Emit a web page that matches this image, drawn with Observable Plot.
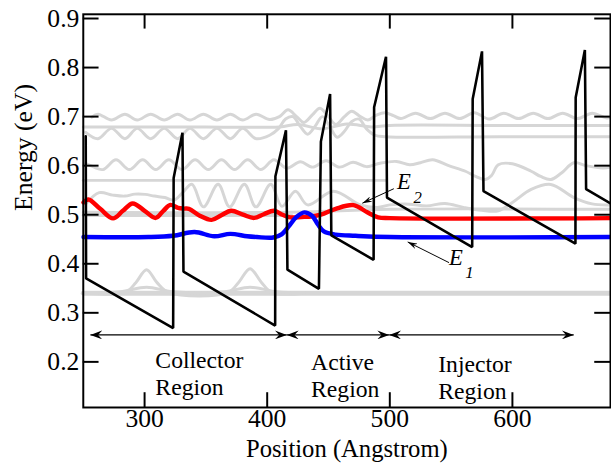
<!DOCTYPE html>
<html><head><meta charset="utf-8">
<script src="https://cdn.jsdelivr.net/npm/d3@7"></script>
<script src="https://cdn.jsdelivr.net/npm/@observablehq/plot@0.6"></script>
<style>
html,body{margin:0;padding:0;background:#fff;overflow:hidden}
#chart{width:611px;height:474px;overflow:hidden}
</style>
</head><body><div id="chart"></div>
<script>
// ---- axes ----
const xTicks = [300, 400, 500, 600];
const yTicks = [0.2, 0.3, 0.4, 0.5, 0.6, 0.7, 0.8, 0.9];

// ---- conduction band profile (black) ----
const bandX = [252, 252.3, 323.3, 323.7, 330.9, 331.7, 406.5, 406.7, 415.3, 416.5, 442.2, 443.8, 451.3, 452.3, 486.8, 487.2, 496.9, 497.7, 567.2, 567.6, 575.2, 576.4, 651.4, 651.6, 659.1, 660.1, 680];
const bandY = [0.660, 0.370, 0.269, 0.575, 0.667, 0.384, 0.274, 0.5785, 0.672, 0.388, 0.349, 0.649, 0.746, 0.458, 0.408, 0.719, 0.822, 0.535, 0.434, 0.736, 0.833, 0.548, 0.441, 0.739, 0.836, 0.552, 0.523];

// ---- E2 (red) ----
const e2X = [250.2, 254.2, 263.8, 274.3, 282.3, 290.3, 300, 309.1, 315.3, 321.1, 327.3, 332.1, 336.2, 345, 354.6, 362.6, 370.6, 380.3, 389.4, 397.2, 405.5, 412.5, 418.9, 427.8, 434.2, 443.8, 455.9, 470.4, 481.6, 490.5, 500.1, 680];
const e2Y = [0.525, 0.531, 0.512, 0.4925, 0.508, 0.523, 0.508, 0.4935, 0.508, 0.520, 0.514, 0.5125, 0.512, 0.498, 0.4895, 0.499, 0.508, 0.500, 0.4935, 0.501, 0.508, 0.500, 0.4945, 0.4955, 0.496, 0.500, 0.512, 0.5195, 0.505, 0.4947, 0.493, 0.493];

// ---- E1 (blue) ----
const e1X = [250.2, 303.2, 323.3, 340.7, 356.8, 369.9, 383.6, 391.6, 404.9, 411.7, 418.1, 423.7, 430.2, 436.6, 441.4, 446.2, 455.9, 472, 500.1, 680];
const e1Y = [0.4545, 0.4545, 0.457, 0.4646, 0.456, 0.461, 0.456, 0.4545, 0.4535, 0.46, 0.478, 0.495, 0.5048, 0.498, 0.48, 0.466, 0.4595, 0.457, 0.4545, 0.4545];

// ---- other states (grey) ----
const psiA = [[257,0.699],[262,0.705],[273,0.693],[284,0.705],[294,0.693],[305,0.705],[316,0.693],[327,0.705],[337,0.693],[348,0.705],[359,0.693],[370,0.705],[380,0.693],[391,0.705],[402,0.694],[410,0.70],[417,0.714],[424,0.70],[430,0.688],[437,0.704],[443,0.717],[450,0.70],[456,0.684],[463,0.70],[469,0.711],[476,0.70],[482,0.693],[489,0.703],[496,0.708],[503,0.702],[509,0.696],[521,0.707],[533,0.696],[545,0.707],[557,0.696],[569,0.708],[581,0.695],[593,0.707],[605,0.696],[617,0.707],[629,0.696],[641,0.707],[653,0.696],[665,0.707],[677,0.697],[680,0.699]];
const psiB = [[250,0.679],[300,0.679],[350,0.679],[410,0.679],[425,0.684],[445,0.675],[465,0.685],[485,0.679],[500,0.682],[590,0.682],[680,0.682]];
const psiC = [[252,0.668],[262,0.655],[273,0.676],[284,0.655],[294,0.676],[305,0.655],[316,0.676],[327,0.655],[337,0.676],[348,0.655],[359,0.676],[370,0.655],[380,0.676],[391,0.655],[402,0.662],[409,0.675],[415,0.695],[421,0.70],[427,0.68],[433,0.664],[439,0.68],[445,0.70],[451,0.68],[457,0.658],[463,0.67],[469,0.69],[475,0.695],[481,0.675],[488,0.662],[496,0.659],[590,0.659],[680,0.659]];
const psiD = [[252,0.604],[256,0.60],[265.9,0.592],[276.7,0.612],[287.6,0.592],[298.4,0.612],[309.1,0.592],[319.8,0.612],[330.5,0.592],[341.2,0.612],[352,0.592],[362.7,0.612],[373.4,0.592],[384.1,0.612],[394.8,0.592],[405.5,0.612],[416,0.595],[427,0.608],[437,0.597],[448,0.61],[459,0.597],[470,0.607],[481,0.598],[492,0.605],[505.4,0.6086],[516.2,0.6018],[525,0.606],[534.9,0.612],[548,0.60],[561.7,0.5886],[570,0.578],[577.8,0.5717],[583,0.58],[588.5,0.602],[600,0.604],[615.3,0.5886],[623,0.578],[631.3,0.5717],[640,0.585],[650.1,0.606],[660,0.60],[673.7,0.5952],[680,0.597]];
const psiE = [[250,0.57],[497,0.57]];
const psiF = [[252,0.522],[263,0.545],[274,0.54],[284,0.538],[292,0.542],[300.5,0.5415],[308,0.538],[316.6,0.535],[324,0.53],[331,0.545],[338.6,0.562],[348,0.516],[360,0.562],[369.3,0.516],[381.4,0.562],[390.8,0.516],[402.9,0.562],[412,0.517],[423,0.548],[433,0.52],[454,0.548],[476,0.52],[490,0.515],[500,0.52],[516,0.5215],[530,0.518],[545,0.523],[560,0.515],[575,0.509],[588.5,0.508],[600,0.525],[615.3,0.5516],[631.3,0.5617],[650.1,0.535],[665,0.522],[680,0.52]];
const psiG = [[250,0.505],[420,0.505],[500,0.511],[680,0.511]];
const psiH = [[250,0.4985],[420,0.4985]];
const psiJ = [[250,0.341],[284,0.341],[293,0.362],[301.6,0.388],[310,0.362],[320,0.341],[368,0.341],[377,0.363],[386,0.39],[395,0.363],[404,0.341],[430,0.34]];
const psiK = [[250,0.341],[280,0.343],[301.6,0.352],[323,0.343],[365,0.343],[386,0.352],[408,0.343],[430,0.341]];
const psiGround = [[250,0.340],[680,0.340]];

// ---- annotations ----
const regionNames = ["Collector\nRegion", "Active\nRegion", "Injector\nRegion"];
const regionLabelX = [308.8, 435.8, 539.5];
const regionLabelY = [0.1773, 0.1733, 0.169];
const regionFrom = [255.8, 416, 499.5];
const regionTo = [416, 499.5, 650];
const regionArrowY = 0.255;
const levelNames = ["E", "E"];
const levelSubs = ["2", "1"];
const levelLabelX = [505.9, 548.3];
const levelLabelY = [0.5665, 0.4126];
const levelSubX = [519.4, 561.5];
const levelSubY = [0.5357, 0.3816];
const levelArrowFrom = [[503.3, 0.553], [548.3, 0.4023]];
const levelArrowTo = [[477.6, 0.5235], [514.6, 0.4445]];

// ---- tables ----
const band = bandX.map((x, i) => ({x, y: bandY[i]}));
const e2 = e2X.map((x, i) => ({x, y: e2Y[i]}));
const e1 = e1X.map((x, i) => ({x, y: e1Y[i]}));
const greys = [psiA, psiB, psiC, psiD, psiE, psiF, psiG, psiH, psiJ, psiK]
  .flatMap((pts, k) => pts.map(([x, y]) => ({x, y, k})));
const ground = psiGround.map(([x, y]) => ({x, y}));
const regions = regionNames.map((t, i) => ({t, x: regionLabelX[i], y: regionLabelY[i], x1: regionFrom[i], x2: regionTo[i]}));
const levels = levelNames.map((t, i) => ({t, s: levelSubs[i], x: levelLabelX[i], y: levelLabelY[i], sx: levelSubX[i], sy: levelSubY[i],
  x1: levelArrowFrom[i][0], y1: levelArrowFrom[i][1], x2: levelArrowTo[i][0], y2: levelArrowTo[i][1]}));

const FONT = "Liberation Serif, Times New Roman, serif";
const GREY = "#d6d6d6";

function stealth(len, wid) {
  return (color) => {
    const m = document.createElementNS("http://www.w3.org/2000/svg", "marker");
    m.setAttribute("viewBox", `${-len} ${-wid/2} ${len + 1} ${wid}`);
    m.setAttribute("markerWidth", len + 1);
    m.setAttribute("markerHeight", wid);
    m.setAttribute("markerUnits", "userSpaceOnUse");
    m.setAttribute("orient", "auto-start-reverse");
    m.setAttribute("fill", color);
    m.setAttribute("stroke", "none");
    const p = document.createElementNS("http://www.w3.org/2000/svg", "path");
    p.setAttribute("d", `M0,0L${-len},${-wid/2}L${-len*0.65},0L${-len},${wid/2}Z`);
    m.appendChild(p);
    return m;
  };
}

function build(bigMarker, smallMarker) {
  const PH = 474 - 14 - 61, PW = 620 - 84 - 1;
  const T = {fill: "black", fontFamily: FONT};
  return Plot.plot({
    width: 620, height: 474,
    marginLeft: 84, marginRight: 1, marginTop: 14, marginBottom: 61,
    x: {domain: [250, 680], axis: null},
    y: {domain: [0.107, 0.9086], axis: null},
    style: {background: "white", color: "black", overflow: "visible", fontFamily: FONT},
    marks: [
      Plot.line(ground, {x: "x", y: "y", stroke: GREY, strokeWidth: 5}),
      Plot.line(greys, {x: "x", y: "y", z: "k", stroke: GREY, strokeWidth: 3, curve: "catmull-rom"}),
      Plot.line(e2, {x: "x", y: "y", stroke: "#ff0000", strokeWidth: 4.5, curve: "catmull-rom"}),
      Plot.line(e1, {x: "x", y: "y", stroke: "#0000ff", strokeWidth: 4.5, curve: "catmull-rom"}),
      Plot.line(band, {x: "x", y: "y", stroke: "black", strokeWidth: 2.6, strokeLinejoin: "miter"}),
      // region arrows
      Plot.link(regions, {x1: "x1", x2: "x2", y1: () => regionArrowY, y2: () => regionArrowY, stroke: "black", strokeWidth: 1.2,
        markerStart: bigMarker, markerEnd: bigMarker}),
      Plot.text(regions, {x: "x", y: "y", text: "t", textAnchor: "start", lineAnchor: "middle", lineHeight: 1.15, fontSize: 24, ...T}),
      // level annotations
      Plot.link(levels, {x1: "x1", y1: "y1", x2: "x2", y2: "y2", stroke: "black", strokeWidth: 1, markerEnd: smallMarker}),
      Plot.text(levels, {x: "x", y: "y", text: "t", textAnchor: "start", fontSize: 23, fontStyle: "italic", ...T}),
      Plot.text(levels, {x: "sx", y: "sy", text: "s", textAnchor: "start", fontSize: 17, fontStyle: "italic", ...T}),
      // frame & ticks
      Plot.frame({stroke: "black", strokeWidth: 2}),
      Plot.ruleX(xTicks, {x: d => d, insetTop: PH - 15, stroke: "black", strokeWidth: 2}),
      Plot.ruleX(xTicks, {x: d => d, insetBottom: PH - 15, stroke: "black", strokeWidth: 2}),
      Plot.ruleY(yTicks, {y: d => d, insetRight: PW - 16, stroke: "black", strokeWidth: 2}),
      Plot.ruleY(yTicks, {y: d => d, insetLeft: PW - 16, stroke: "black", strokeWidth: 2}),
      Plot.text(xTicks, {x: d => d, text: d => String(d), frameAnchor: "bottom", dy: 20, fontSize: 26, ...T}),
      Plot.text(yTicks, {y: d => d, text: d => d.toFixed(1), frameAnchor: "left", dx: -4, textAnchor: "end", fontSize: 26, ...T}),
      Plot.text(["Position (Angstrom)"], {text: d => d, frameAnchor: "bottom", dy: 50, fontSize: 25, ...T}),
      Plot.text(["Energy (eV)"], {text: d => d, frameAnchor: "left", dx: -60, rotate: -90, fontSize: 26, ...T})
    ]
  });
}

let chart;
try { chart = build(stealth(12, 9), stealth(10, 6)); }
catch (e) { chart = build("arrow", "arrow"); }
document.getElementById("chart").appendChild(chart);
</script>
</body></html>
